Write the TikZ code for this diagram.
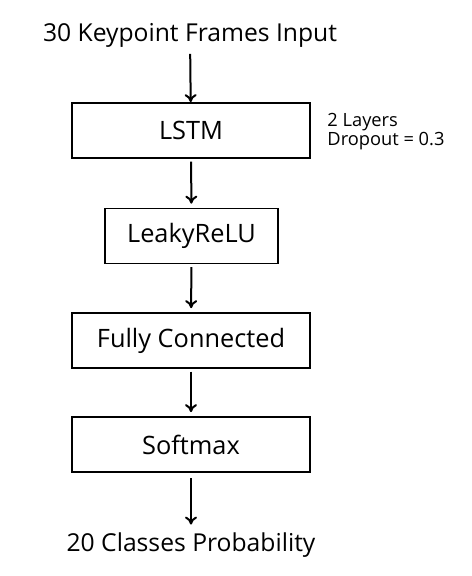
\documentclass[tikz,border=0pt]{standalone}
\usepackage{fontspec}
\setmainfont{Open Sans}
\usetikzlibrary{arrows.meta, positioning}

\begin{document}
\begin{tikzpicture}[x=0.75pt, y=-0.75pt, line width=1.5pt,
    layer/.style={draw, line width=1.3pt, minimum width=178.5pt, minimum height=41.25pt, font=\fontsize{19}{22}\selectfont},
    flow/.style={-{To[length=6pt,width=9pt]}, line width=1.5pt}]
				\useasboundingbox (0,0) rectangle (472,576);

				\node (input) at (190, 35) {\fontsize{18.5}{22}\selectfont 30 Keypoint Frames Input};
				\node[layer] (lstm) at (191, 130.5) {LSTM};
				\node[layer, minimum width=129.75pt] (leaky) at (191.5, 236) {LeakyReLU};
				\node[layer] (fc) at (191, 340.5) {Fully Connected};
				\node[layer] (soft) at (191, 444.5) {Softmax};
				\node (output) at (191, 545) {\fontsize{18.5}{22}\selectfont 20 Classes Probability};

				% lstm settings
				\node[anchor=west, align=left, font=\fontsize{13.7}{12.5}\selectfont] (cfg) at (322, 132) {2 Layers\\Dropout = 0.3};

				\draw[flow, shorten <=1pt] (input) -- (lstm);
				\draw[flow, shorten <=2pt, shorten >=3pt] (lstm) -- (leaky);
				\draw[flow, shorten <=2pt, shorten >=3pt] (leaky) -- (fc);
				\draw[flow, shorten <=2pt, shorten >=3pt] (fc) -- (soft);
				\draw[flow, shorten <=4pt, shorten >=2pt] (soft) -- (output);
			\end{tikzpicture}
\end{document}
